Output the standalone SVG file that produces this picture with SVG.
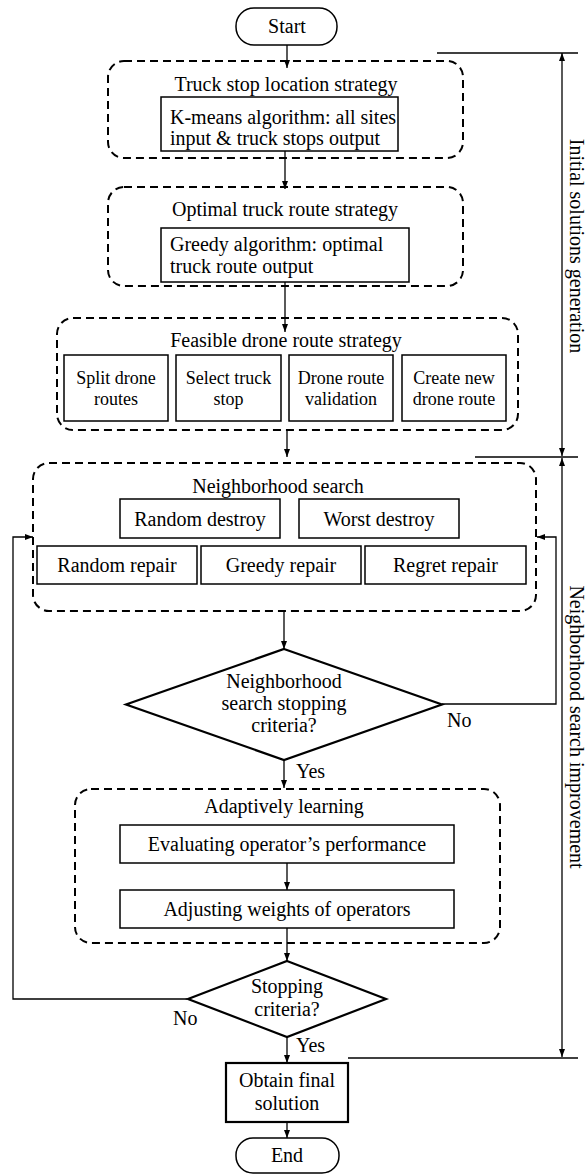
<svg xmlns="http://www.w3.org/2000/svg" width="588" height="1175" viewBox="0 0 588 1175">
<defs>
<marker id="ah" viewBox="0 0 8 6" refX="8" refY="3" markerWidth="8" markerHeight="6" markerUnits="userSpaceOnUse" orient="auto-start-reverse"><path d="M0,0 L8,3 L0,6 z" fill="#000"/></marker>
</defs>
<style>
text{font-family:"Liberation Serif","Times New Roman",serif;font-size:20px;fill:#000}
.c{text-anchor:middle}
.box{fill:#fff;stroke:#000;stroke-width:1.5}
.grp{fill:none;stroke:#000;stroke-width:2;stroke-dasharray:8 5}
.thick{fill:#fff;stroke:#000;stroke-width:2.2}
.ln{fill:none;stroke:#000;stroke-width:1.3}
.arr{fill:none;stroke:#000;stroke-width:1.3;marker-end:url(#ah)}
.dbl{fill:none;stroke:#000;stroke-width:1.3;marker-start:url(#ah);marker-end:url(#ah)}
.s18{font-size:18px}
</style>
<rect width="588" height="1175" fill="#fff"/>

<g id="containers">
<g id="grp-truck-stop"><rect class="grp" x="108" y="61" width="355" height="97" rx="16"/><text class="c" x="286" y="91">Truck stop location strategy</text></g>
<g id="grp-truck-route"><rect class="grp" x="108" y="187" width="355" height="99" rx="16"/><text class="c" x="285" y="216">Optimal truck route strategy</text></g>
<g id="grp-drone"><rect class="grp" x="57" y="318" width="461" height="112" rx="16"/><text class="c" x="286" y="347">Feasible drone route strategy</text></g>
<g id="grp-neigh"><rect class="grp" x="33" y="463" width="503" height="148" rx="16"/><text class="c" x="278" y="493">Neighborhood search</text></g>
<g id="grp-adapt"><rect class="grp" x="75" y="789" width="425" height="154" rx="16"/><text class="c" x="284" y="813">Adaptively learning</text></g>
</g>

<g id="connectors">
<path class="arr" d="M287,45 V68"/>
<path class="arr" d="M285,151 V189"/>
<path class="arr" d="M285,282 V332"/>
<path class="arr" d="M287,430 V457"/>
<path class="arr" d="M284,611 V649"/>
<path class="arr" d="M284,760 V788"/>
<path class="arr" d="M287,863 V890"/>
<path class="arr" d="M287,928 V961"/>
<path class="arr" d="M287,1037 V1063"/>
<path class="arr" d="M287,1122 V1138"/>
<path class="arr" d="M442,704 H556 V537 H537"/>
<path class="arr" d="M187,999 H13 V537 H33"/>
<text x="447" y="727">No</text>
<text x="173" y="1025">No</text>
<text x="296" y="778">Yes</text>
<text x="296" y="1052">Yes</text>
</g>

<g id="annotations">
<path class="ln" d="M437,53 H578"/>
<path class="ln" d="M475,457 H578"/>
<path class="ln" d="M348,1058 H578"/>
<path class="dbl" d="M562,53 V456"/>
<path class="dbl" d="M562,458 V1057"/>
<text class="c" transform="translate(570,246) rotate(90)">Initial solutions generation</text>
<text class="c" transform="translate(570,727) rotate(90)">Neighborhood search improvement</text>
</g>

<g id="start"><rect class="box" x="236" y="8" width="101" height="37" rx="18"/><text class="c" x="287" y="33">Start</text></g>
<g id="kmeans"><rect class="box" x="161" y="97" width="237" height="54"/><text x="170" y="124">K-means algorithm: all sites</text><text x="170" y="145">input &amp; truck stops output</text></g>
<g id="greedy"><rect class="box" x="161" y="228" width="248" height="54"/><text x="170" y="251">Greedy algorithm: optimal</text><text x="170" y="273">truck route output</text></g>
<g id="split"><rect class="box" x="64" y="355" width="104" height="66"/><text class="c s18" x="116" y="384">Split drone</text><text class="c s18" x="116" y="405">routes</text></g>
<g id="select"><rect class="box" x="176" y="355" width="105" height="66"/><text class="c s18" x="228.5" y="384">Select truck</text><text class="c s18" x="228.5" y="405">stop</text></g>
<g id="validate"><rect class="box" x="289" y="355" width="104" height="66"/><text class="c s18" x="341" y="384">Drone route</text><text class="c s18" x="341" y="405">validation</text></g>
<g id="create"><rect class="box" x="402" y="355" width="104" height="66"/><text class="c s18" x="454" y="384">Create new</text><text class="c s18" x="454" y="405">drone route</text></g>
<g id="rand-destroy"><rect class="box" x="120" y="499" width="160" height="39"/><text class="c" x="200" y="526">Random destroy</text></g>
<g id="worst-destroy"><rect class="box" x="299" y="499" width="160" height="39"/><text class="c" x="379" y="526">Worst destroy</text></g>
<g id="rand-repair"><rect class="box" x="37" y="546" width="160" height="38"/><text class="c" x="117" y="572">Random repair</text></g>
<g id="greedy-repair"><rect class="box" x="201" y="546" width="160" height="38"/><text class="c" x="281" y="572">Greedy repair</text></g>
<g id="regret-repair"><rect class="box" x="365" y="546" width="161" height="38"/><text class="c" x="445.5" y="572">Regret repair</text></g>
<g id="ns-criteria"><polygon class="thick" points="284,649 442,704.5 284,760 126,704.5"/><text class="c" x="284" y="688">Neighborhood</text><text class="c" x="284" y="710">search stopping</text><text class="c" x="284" y="732">criteria?</text></g>
<g id="evaluate"><rect class="box" x="120" y="825" width="334" height="38"/><text class="c" x="287" y="851">Evaluating operator’s performance</text></g>
<g id="adjust"><rect class="box" x="120" y="890" width="334" height="38"/><text class="c" x="287" y="916">Adjusting weights of operators</text></g>
<g id="stop-criteria"><polygon class="thick" points="287,961 386,999 287,1037 188,999"/><text class="c" x="287" y="993">Stopping</text><text class="c" x="287" y="1016">criteria?</text></g>
<g id="obtain"><rect class="thick" x="226" y="1063" width="122" height="59"/><text class="c" x="287" y="1087">Obtain final</text><text class="c" x="287" y="1110">solution</text></g>
<g id="end"><rect class="box" x="236" y="1138" width="103" height="35" rx="17"/><text class="c" x="287" y="1162">End</text></g>
</svg>
